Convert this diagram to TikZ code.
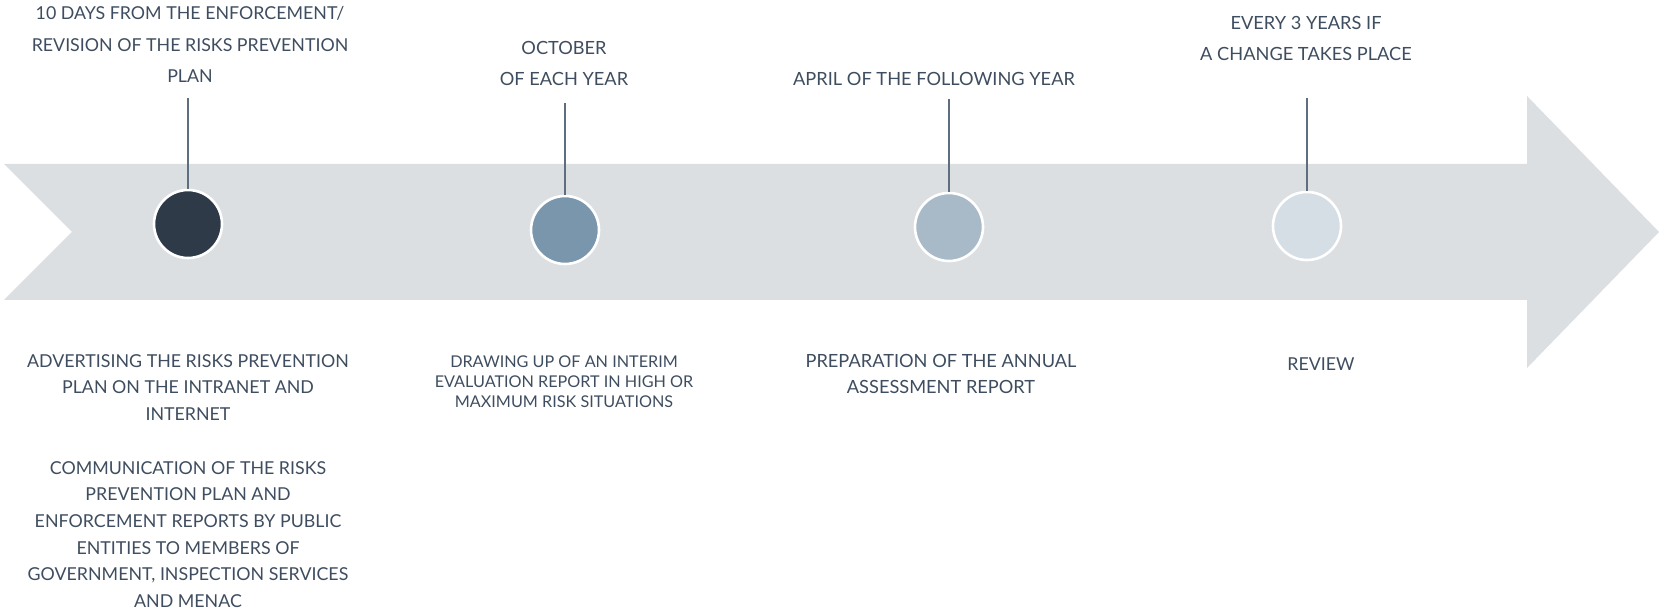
\documentclass[tikz,border=0pt]{standalone}
\usepackage{fontspec}
\setmainfont{Lato}
\usetikzlibrary{positioning}

\definecolor{bandgray}{HTML}{DCDFE2}
\definecolor{slate}{HTML}{3E4D5F}
\definecolor{stemgray}{HTML}{5E6E7E}
\definecolor{dotA}{HTML}{2E3A48}
\definecolor{dotB}{HTML}{7A96AD}
\definecolor{dotC}{HTML}{A8BAC8}
\definecolor{dotD}{HTML}{D5DDE5}

\begin{document}
\begin{tikzpicture}[x=0.5pt, y=-0.5pt,
		dot/.style={circle, draw=white, line width=1.3pt, minimum size=34pt, inner sep=0pt},
		stem/.style={stemgray, line width=0.65pt},
		lbl/.style={text=slate, align=center, inner sep=0pt, font=\fontsize{8.9}{15.75}\selectfont},
		lblwide/.style={lbl, font=\fontsize{9.1}{15.75}\selectfont},
		lbltight/.style={lbl, font=\fontsize{8.1}{9.9}\selectfont}]
			%%%%% START %%%%%
			
			\useasboundingbox (0, 0) rectangle (1659, 608);
			
			% timeline band
			\fill[bandgray] (4, 164) -- (1527, 164) -- (1527, 96) -- (1659, 232)
				-- (1527, 368) -- (1527, 300) -- (4, 300) -- (72, 232) -- cycle;
			
			\node[dot, fill=dotA] (c1) at (188, 224) {};
			\node[dot, fill=dotB] (c2) at (565, 230) {};
			\node[dot, fill=dotC] (c3) at (949, 227) {};
			\node[dot, fill=dotD] (c4) at (1307, 226) {};
			
			\coordinate (s1) at (188, 98);
			\coordinate (s2) at (565, 103);
			\coordinate (s3) at (949, 99);
			\coordinate (s4) at (1307, 98);
			\foreach \i in {1,...,4}
				\draw[stem] (s\i) -- (c\i.north);
			
			% when
			\node[lbl] (t1) at (190, 44.5) {10 DAYS FROM THE ENFORCEMENT/\\REVISION OF THE RISKS PREVENTION\\PLAN};
			\node[lblwide] (t2) at (564, 63.5) {OCTOBER\\OF EACH YEAR};
			\node[lblwide] (t3) at (934, 79) {APRIL OF THE FOLLOWING YEAR};
			\node[lblwide] (t4) at (1306, 38.5) {EVERY 3 YEARS IF\\A CHANGE TAKES PLACE};
			
			% what
			\node[lbl, font=\fontsize{8.9}{13.35}\selectfont] (b1) at (188, 481) {ADVERTISING THE RISKS PREVENTION\\PLAN ON THE INTRANET AND\\INTERNET\\[13.35pt]COMMUNICATION OF THE RISKS\\PREVENTION PLAN AND\\ENFORCEMENT REPORTS BY PUBLIC\\ENTITIES TO MEMBERS OF\\GOVERNMENT, INSPECTION SERVICES\\AND MENAC};
			\node[lbltight] (b2) at (564, 382) {DRAWING UP OF AN INTERIM\\EVALUATION REPORT IN HIGH OR\\MAXIMUM RISK SITUATIONS};
			\node[lblwide, font=\fontsize{9.1}{13}\selectfont] (b3) at (941, 374) {PREPARATION OF THE ANNUAL\\ASSESSMENT REPORT};
			\node[lbl] (b4) at (1321, 364) {REVIEW};
			
			%%%%% END %%%%%
		\end{tikzpicture}
\end{document}
